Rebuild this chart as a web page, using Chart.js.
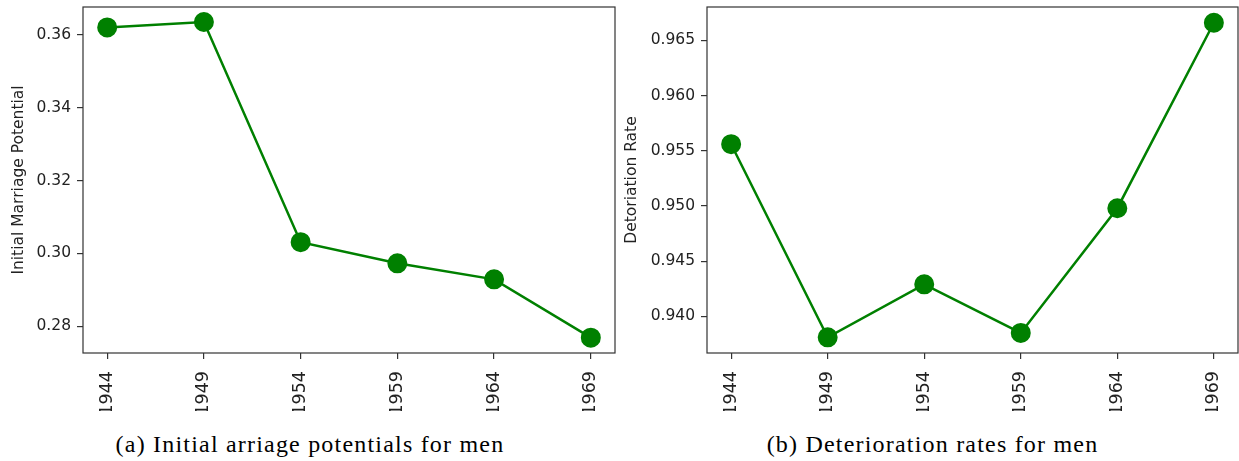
<!DOCTYPE html>
<html>
<head>
<meta charset="utf-8">
<script src="https://cdn.jsdelivr.net/npm/chart.js@4.4.0/dist/chart.umd.min.js"></script>
<style>
  body { margin: 0; background: #fff; }
  #wrap { position: relative; width: 1239px; height: 461px; overflow: hidden; }
  canvas { position: absolute; top: 0; }
  .caption {
    position: absolute; top: 432px;
    font-family: 'Liberation Serif', serif; font-size: 24px; line-height: 24px;
    letter-spacing: 1.2px; text-align: center; color: #000; white-space: nowrap;
  }
</style>
</head>
<body>
<div id="wrap">
  <canvas id="chartA" width="620" height="411" style="left:0"></canvas>
  <canvas id="chartB" width="619" height="411" style="left:620px"></canvas>
  <div class="caption" style="left:0;width:620px">(a) Initial arriage potentials for men</div>
  <div class="caption" style="left:623px;width:619px">(b) Deterioration rates for men</div>
</div>
<script>
const years = ['1944', '1949', '1954', '1959', '1964', '1969'];
const marriagePotential = [0.3620, 0.3635, 0.3031, 0.2973, 0.2929, 0.2769];
const deteriorationRate = [0.9556, 0.9381, 0.9429, 0.9385, 0.9498, 0.9666];
const potentialTicks = [0.28, 0.30, 0.32, 0.34, 0.36];
const rateTicks = [0.940, 0.945, 0.950, 0.955, 0.960, 0.965];

const green = '#008000';
const ink = '#222';

// matplotlib-style box around the plot area
const frame = {
    id: 'frame',
    afterDatasetsDraw(chart) {
        const a = chart.chartArea;
        const ctx = chart.ctx;
        ctx.save();
        ctx.strokeStyle = '#333';
        ctx.lineWidth = 1.2;
        ctx.strokeRect(a.left, a.top, a.right - a.left, a.bottom - a.top);
        ctx.restore();
    }
};

function makeChart(id, values, yTicks, yMin, yMax, digits, yTitle, yWidth, titleGap, rightPad) {
    return new Chart(document.getElementById(id), {
        type: 'line',
        data: {
            datasets: [{
                data: values.map((v, i) => ({ x: i, y: v })),
                borderColor: green,
                backgroundColor: green,
                borderWidth: 2.5,
                pointRadius: 9,
                pointBorderWidth: 2,
                pointBackgroundColor: green,
                pointBorderColor: green,
                clip: false
            }]
        },
        options: {
            responsive: false,
            animation: false,
            events: [],
            layout: { autoPadding: false, padding: { top: 7, right: rightPad, left: 0, bottom: 0 } },
            plugins: { legend: { display: false }, tooltip: { enabled: false } },
            scales: {
                x: {
                    type: 'linear',
                    min: -0.25,
                    max: 5.25,
                    afterBuildTicks: s => { s.ticks = years.map((y, i) => ({ value: i })); },
                    ticks: {
                        callback: v => years[v],
                        minRotation: 90,
                        maxRotation: 90,
                        autoSkip: false,
                        padding: 12,
                        color: ink,
                        font: { family: 'DejaVu Sans', size: 17.5 }
                    },
                    grid: { drawOnChartArea: false, tickLength: 6, color: '#333', lineWidth: 1.2 },
                    border: { display: false },
                    afterFit: s => { s.height = 58; s.paddingLeft = 0; s.paddingRight = 0; }
                },
                y: {
                    min: yMin,
                    max: yMax,
                    afterBuildTicks: s => { s.ticks = yTicks.map(v => ({ value: v })); },
                    ticks: {
                        callback: v => v.toFixed(digits),
                        padding: 6,
                        color: ink,
                        font: { family: 'DejaVu Sans', size: 15.5 }
                    },
                    grid: { drawOnChartArea: false, tickLength: 6, color: '#333', lineWidth: 1.2 },
                    border: { display: false },
                    title: {
                        display: true,
                        text: yTitle,
                        color: ink,
                        padding: { top: titleGap, bottom: 0 },
                        font: { family: 'DejaVu Sans', size: 15.5 }
                    },
                    afterFit: s => { s.width = yWidth; s.paddingTop = 0; s.paddingBottom = 0; }
                }
            }
        },
        plugins: [frame]
    });
}

makeChart('chartA', marriagePotential, potentialTicks, 0.2727, 0.3676, 2,
    'Initial Marriage Potential', 83, 9.6, 5);
makeChart('chartB', deteriorationRate, rateTicks, 0.93668, 0.96803, 3,
    'Detoriation Rate', 87, 2.7, 1);
</script>
</body>
</html>
